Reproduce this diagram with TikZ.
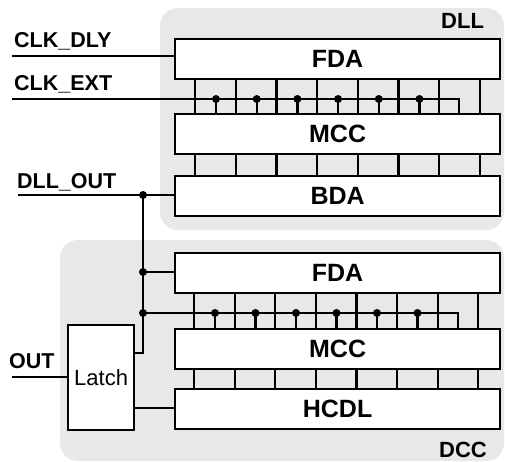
\documentclass[tikz,border=0pt]{standalone}
\usepackage{fontspec}
\setmainfont{Liberation Sans}
\definecolor{regiongray}{HTML}{E8E8E8}
\begin{document}
\begin{tikzpicture}[x=1pt,y=-1pt,
  region/.style={fill=regiongray, rounded corners=18pt},
  blk/.style={draw, line width=2.2pt, fill=white, minimum width=325pt, minimum height=40pt, inner sep=0pt, font=\fontsize{25}{29}\selectfont\bfseries, anchor=north west},
  latchbox/.style={draw, line width=2.2pt, fill=white, minimum width=66pt, minimum height=105pt, inner sep=0pt, font=\fontsize{22}{26}\selectfont, anchor=north west},
  wire/.style={line width=2.2pt},
  jdot/.style={circle, fill=black, inner sep=0pt, minimum size=8pt},
  lbl/.style={font=\fontsize{21.5}{25}\selectfont\bfseries, anchor=base west, inner sep=0pt},
  rlbl/.style={font=\fontsize{22}{26}\selectfont\bfseries, anchor=base west, inner sep=0pt}]
\useasboundingbox (0,0) rectangle (505,461);
% regions
\fill[region] (160,8) rectangle (504,230);
\fill[region] (60,240) rectangle (504,461);
\node[rlbl] (dlllbl) at (441,28) {DLL};
\node[rlbl] (dcclbl) at (439,457) {DCC};
% blocks
\node[blk] (fda1) at (174,38) {FDA};
\node[blk] (mcc1) at (174,113) {MCC};
\node[blk] (bda) at (174,175) {BDA};
\node[blk] (fda2) at (174,252) {FDA};
\node[blk] (mcc2) at (174,328) {MCC};
\node[blk] (hcdl) at (174,388) {HCDL};
\node[latchbox] (latch) at (67,324) {Latch};
% labels
\node[lbl] (lclkdly) at (14,47) {CLK\_DLY};
\node[lbl] (lclkext) at (14,90) {CLK\_EXT};
\node[lbl] (ldllout) at (17,188) {DLL\_OUT};
\node[lbl] (lout) at (9,368) {OUT};
% bus lines top
\foreach \i in {0,...,7}{
  \coordinate (ta\i) at ({195+40.7*\i},100);
  \draw[wire] (ta\i |- fda1.south) -- (ta\i |- mcc1.north);
  \draw[wire] (ta\i |- mcc1.south) -- (ta\i |- bda.north);
}
\foreach \i in {0,...,7}{
  \coordinate (tb\i) at ({194+40.6*\i},310);
  \draw[wire] (tb\i |- fda2.south) -- (tb\i |- mcc2.north);
  \draw[wire] (tb\i |- mcc2.south) -- (tb\i |- hcdl.north);
}
% CLK_DLY
\coordinate (cdly) at (12,56);
\draw[wire] (cdly) -- (cdly -| fda1.west);
% CLK_EXT
\coordinate (cext) at (12,99);
\coordinate (cextc) at (459,99);
\draw[wire] (cext) -- (cextc) -- (cextc |- mcc1.north);
\foreach \i in {0,...,5}{
  \node[jdot] (da\i) at ({216+40.7*\i},99) {};
  \draw[wire] (da\i.center) -- (da\i.center |- mcc1.north);
}
% DLL_OUT
\coordinate (dout) at (18,195);
\draw[wire] (dout) -- (dout -| bda.west);
\node[jdot] (j1) at (143,195) {};
\node[jdot] (j2) at (143,272) {};
\node[jdot] (j3) at (143,313) {};
\coordinate (lt) at (143,353);
\draw[wire] (j1.center) -- (lt) -- (lt -| latch.east);
\draw[wire] (j2.center) -- (j2.center -| fda2.west);
\coordinate (c2) at (458,313);
\draw[wire] (j3.center) -- (c2) -- (c2 |- mcc2.north);
\foreach \i in {0,...,5}{
  \node[jdot] (db\i) at ({215+40.5*\i},313) {};
  \draw[wire] (db\i.center) -- (db\i.center |- mcc2.north);
}
% OUT and latch to HCDL
\coordinate (out) at (12,377);
\draw[wire] (out) -- (out -| latch.west);
\coordinate (lh) at (133,408);
\draw[wire] (latch.east |- lh) -- (lh -| hcdl.west);
\end{tikzpicture}
\end{document}
